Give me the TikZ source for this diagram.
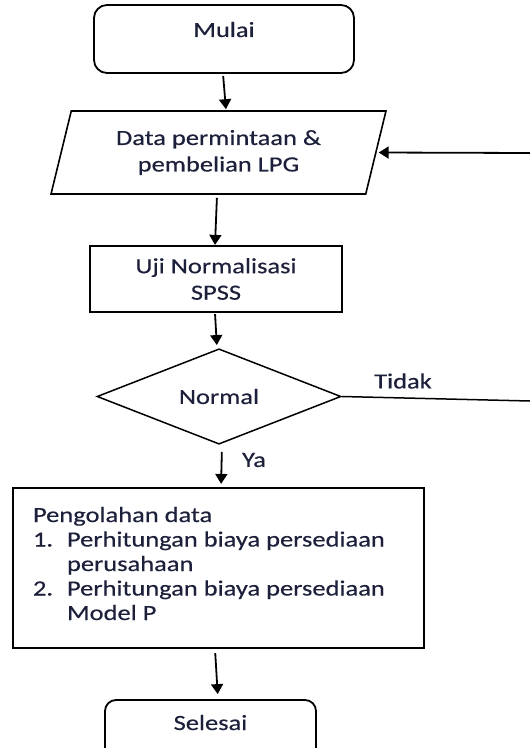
\documentclass[tikz,border=0pt]{standalone}
\usepackage{fontspec}
\setmainfont{Carlito}[FakeStretch=1.22,FakeBold=0.35]
\usetikzlibrary{shapes.geometric,arrows.meta}
\definecolor{txt}{RGB}{28,32,58}
\begin{document}
\begin{tikzpicture}[x=1bp,y=-1bp,
  font=\fontsize{21.7bp}{26.5bp}\selectfont,
  text=txt,
  arr/.style={line width=1.8bp,-{Triangle[length=10bp,width=12bp]}},
  termbox/.style={draw,rounded corners=13bp,line width=1.8bp,inner sep=0pt},
  procbox/.style={draw,line width=2.2bp,inner sep=0pt,align=center},
  iobox/.style={draw,trapezium,trapezium left angle=72.6,trapezium right angle=107.4,
    trapezium stretches=true,line width=1.6bp,inner sep=0pt,align=center},
  decbox/.style={draw,diamond,line width=1.5bp,inner sep=0pt},
  lbl/.style={inner sep=0pt}]
\useasboundingbox (0,0) rectangle (530,748);
\clip (0,0) rectangle (530,748);

\node[termbox,minimum width=260bp,minimum height=68bp,text height=32bp,text depth=36bp] (mulai) at (224,39) {Mulai};
\node[iobox,minimum width=335bp,minimum height=83bp] (data) at (218.5,152.5) {Data permintaan \&\\pembelian LPG};
\node[procbox,minimum width=252bp,minimum height=66bp] (uji) at (216,279) {Uji Normalisasi\\SPSS};
\node[decbox,minimum width=244bp,minimum height=87bp] (normal) at (219,396.5) {Normal};
\node[procbox,minimum width=411bp,minimum height=160bp] (olah) at (218.5,568)
  {\parbox[c][160bp][t]{411bp}{\fontsize{21.7bp}{24.5bp}\selectfont\raggedright\leftskip=20bp
   \rule{0pt}{34bp}Pengolahan data\par
   \makebox[34bp][l]{1.}Perhitungan biaya persediaan\par
   \hspace*{34bp}perusahaan\par
   \makebox[34bp][l]{2.}Perhitungan biaya persediaan\par
   \hspace*{34bp}Model P\par}};
\node[termbox,rounded corners=11bp,minimum width=211bp,minimum height=68bp,text height=30bp,text depth=38bp] (selesai) at (210.5,734) {Selesai};

\node[lbl] (tidak) at (403,381) {Tidak};
\node[lbl] (ya) at (254,460) {Ya};

\coordinate (fbin) at (530,153);
\coordinate (fbout) at (530,401);

\draw[arr,shorten <=2bp,shorten >=1bp] ([xshift=-1bp]mulai.south) -- ([xshift=7.5bp]data.north);
\draw[arr,shorten <=3bp] ([xshift=-1.5bp]data.south) -- ([xshift=-1bp]uji.north);
\draw[arr,shorten <=1bp,shorten >=3bp] ([xshift=-1bp]uji.south) -- ([xshift=-2bp]normal.north);
\draw[arr,shorten <=7bp,shorten >=3bp] ([xshift=3bp]normal.south) -- ([xshift=2.5bp]olah.north);
\draw[arr,shorten <=4bp,shorten >=5bp] ([xshift=-3.5bp]olah.south) -- ([xshift=7.5bp]selesai.north);
\draw[line width=1.5bp] (normal.east) -- (fbout);
\draw[arr,shorten >=2bp] (fbin) -- (data.east);
\end{tikzpicture}
\end{document}
